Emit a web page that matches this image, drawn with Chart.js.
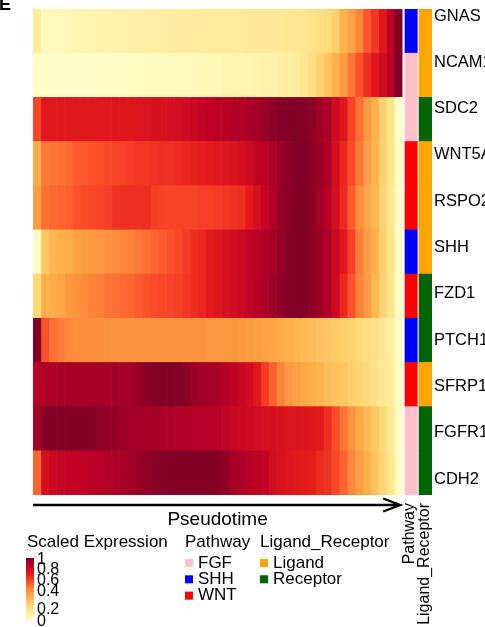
<!DOCTYPE html>
<html>
<head>
<meta charset="utf-8">
<script src="https://cdn.jsdelivr.net/npm/chart.js@4.4.0/dist/chart.umd.min.js"></script>
<style>
  html, body { margin: 0; padding: 0; background: #fff; }
</style>
</head>
<body>
<canvas id="heat" width="485" height="627"></canvas>
<script>
const genes = ["GNAS", "NCAM1", "SDC2", "WNT5A", "RSPO2", "SHH", "FZD1", "PTCH1", "SFRP1", "FGFR1", "CDH2"];
const pathway = ["SHH", "FGF", "FGF", "WNT", "WNT", "SHH", "WNT", "SHH", "WNT", "FGF", "FGF"];
const ligandReceptor = ["Ligand", "Ligand", "Receptor", "Ligand", "Ligand", "Ligand", "Receptor", "Receptor", "Ligand", "Receptor", "Receptor"];

const pathwayNames = ["FGF", "SHH", "WNT"];
const pathwayColors = ["#ffc0cb", "#0000ff", "#ff0000"];
const lrNames = ["Ligand", "Receptor"];
const lrColors = ["#ffa500", "#006400"];
const scaleTicks = ["1", "0.8", "0.6", "0.4", "0.2", "0"];

// scaled expression along pseudotime (47 bins)
const gnas  = [0.13,0.04,0.05,0.05,0.06,0.07,0.07,0.08,0.09,0.09,0.10,0.10,0.11,0.11,0.12,0.12,0.12,0.13,0.13,0.13,0.13,0.14,0.14,0.14,0.14,0.14,0.14,0.15,0.15,0.15,0.15,0.15,0.16,0.16,0.17,0.19,0.21,0.24,0.28,0.37,0.43,0.51,0.61,0.68,0.76,0.87,1.00];
const ncam1 = [0.02,0.02,0.01,0.01,0.01,0.01,0.01,0.01,0.01,0.02,0.02,0.02,0.03,0.03,0.03,0.04,0.04,0.04,0.05,0.05,0.05,0.06,0.06,0.06,0.07,0.07,0.08,0.08,0.09,0.10,0.10,0.11,0.12,0.14,0.17,0.21,0.27,0.32,0.38,0.45,0.55,0.62,0.70,0.76,0.82,0.88,1.00];
const sdc2  = [0.65,0.76,0.76,0.76,0.76,0.76,0.76,0.76,0.76,0.76,0.77,0.77,0.77,0.78,0.78,0.79,0.79,0.80,0.81,0.82,0.84,0.86,0.87,0.88,0.88,0.89,0.90,0.91,0.93,0.95,0.97,0.99,1.00,1.00,0.99,0.97,0.93,0.90,0.82,0.76,0.65,0.56,0.47,0.38,0.28,0.18,0.01];
const wnt5a = [0.40,0.54,0.55,0.56,0.57,0.60,0.61,0.62,0.63,0.64,0.65,0.66,0.67,0.68,0.68,0.69,0.70,0.70,0.71,0.72,0.73,0.74,0.75,0.76,0.77,0.78,0.80,0.83,0.86,0.88,0.91,0.94,0.97,1.00,1.00,0.97,0.94,0.90,0.80,0.72,0.63,0.54,0.45,0.37,0.28,0.18,0.03];
const rspo2 = [0.45,0.56,0.57,0.58,0.59,0.62,0.63,0.64,0.65,0.66,0.69,0.70,0.70,0.70,0.70,0.66,0.65,0.65,0.65,0.65,0.65,0.66,0.66,0.67,0.68,0.69,0.70,0.75,0.80,0.85,0.90,0.95,0.98,1.00,1.00,0.97,0.93,0.88,0.80,0.71,0.60,0.50,0.42,0.36,0.27,0.16,0.02];
const shh   = [0.02,0.30,0.36,0.38,0.40,0.43,0.45,0.46,0.47,0.48,0.50,0.51,0.52,0.54,0.56,0.58,0.60,0.62,0.64,0.67,0.70,0.72,0.75,0.77,0.79,0.81,0.83,0.86,0.88,0.90,0.93,0.96,0.99,1.00,1.00,0.97,0.94,0.90,0.83,0.76,0.66,0.53,0.45,0.38,0.28,0.18,0.02];
const fzd1  = [0.25,0.38,0.40,0.42,0.46,0.48,0.50,0.52,0.53,0.55,0.56,0.57,0.58,0.60,0.62,0.63,0.64,0.65,0.66,0.68,0.70,0.72,0.75,0.77,0.79,0.81,0.83,0.86,0.88,0.91,0.94,0.97,0.99,1.00,1.00,0.97,0.94,0.90,0.83,0.72,0.62,0.52,0.45,0.36,0.27,0.18,0.03];
const ptch1 = [1.00,0.62,0.56,0.53,0.51,0.50,0.50,0.49,0.49,0.48,0.48,0.48,0.48,0.48,0.48,0.48,0.48,0.48,0.48,0.48,0.48,0.48,0.47,0.47,0.47,0.47,0.46,0.45,0.44,0.43,0.42,0.41,0.39,0.37,0.35,0.34,0.32,0.31,0.30,0.28,0.27,0.25,0.22,0.20,0.16,0.11,0.03];
const sfrp1 = [0.88,0.91,0.91,0.92,0.92,0.92,0.92,0.92,0.92,0.92,0.93,0.93,0.93,0.96,0.98,0.99,1.00,1.00,0.99,0.98,0.94,0.93,0.93,0.92,0.89,0.87,0.84,0.81,0.76,0.67,0.59,0.52,0.47,0.44,0.41,0.39,0.37,0.34,0.32,0.31,0.28,0.26,0.24,0.20,0.17,0.13,0.03];
const fgfr1 = [0.92,1.00,1.00,1.00,1.00,1.00,1.00,0.99,0.97,0.96,0.96,0.94,0.93,0.93,0.92,0.92,0.91,0.91,0.90,0.90,0.89,0.89,0.88,0.88,0.86,0.84,0.83,0.82,0.81,0.80,0.80,0.79,0.78,0.78,0.77,0.76,0.75,0.70,0.63,0.55,0.48,0.41,0.35,0.30,0.24,0.15,0.03];
const cdh2  = [0.58,0.80,0.83,0.85,0.86,0.86,0.87,0.88,0.89,0.90,0.91,0.92,0.93,0.95,0.97,0.98,0.99,1.00,1.00,1.00,1.00,1.00,1.00,0.99,0.97,0.93,0.91,0.89,0.87,0.85,0.81,0.79,0.77,0.76,0.75,0.74,0.71,0.69,0.64,0.58,0.51,0.45,0.38,0.32,0.26,0.16,0.03];

const expression = [gnas, ncam1, sdc2, wnt5a, rspo2, shh, fzd1, ptch1, sfrp1, fgfr1, cdh2];

const palette = ["#ffffcc","#ffeda0","#fed976","#feb24c","#fd8d3c","#fc4e2a","#e31a1c","#bd0026","#800026"];
const FONT = "'Liberation Sans', Arial, sans-serif";

function hexRgb(h) {
  return [parseInt(h.slice(1,3),16), parseInt(h.slice(3,5),16), parseInt(h.slice(5,7),16)];
}
function colorFor(v) {
  v = Math.max(0, Math.min(1, v));
  const p = v * (palette.length - 1);
  const i = Math.min(Math.floor(p), palette.length - 2);
  const t = p - i;
  const a = hexRgb(palette[i]), b = hexRgb(palette[i+1]);
  const c = a.map((x, k) => Math.round(x + (b[k] - x) * t));
  return "rgb(" + c.join(",") + ")";
}

const nBins = gnas.length;
const datasets = [];
for (let j = 0; j < nBins; j++) {
  datasets.push({
    data: genes.map(() => [j, j + 1]),
    backgroundColor: expression.map(r => colorFor(r[j]))
  });
}
// annotation columns
datasets.push({
  data: genes.map(() => [47.36, 48.93]),
  backgroundColor: pathway.map(p => pathwayColors[pathwayNames.indexOf(p)])
});
datasets.push({
  data: genes.map(() => [49.15, 50.8]),
  backgroundColor: ligandReceptor.map(p => lrColors[lrNames.indexOf(p)])
});

const extras = {
  id: "extras",
  afterDraw(chart) {
    const ctx = chart.ctx;
    ctx.save();
    ctx.fillStyle = "#000";
    ctx.strokeStyle = "#000";

    // panel letter
    ctx.font = "bold 18px " + FONT;
    ctx.textBaseline = "alphabetic";
    ctx.textAlign = "left";
    ctx.fillText("E", -1, 10);

    // pseudotime arrow
    const left = chart.chartArea.left;
    const tip = chart.scales.x.getPixelForValue(47) - 2;
    ctx.lineWidth = 2.4;
    ctx.beginPath();
    ctx.moveTo(left, 505);
    ctx.lineTo(tip, 505);
    ctx.moveTo(tip - 17, 498.5);
    ctx.lineTo(tip, 505);
    ctx.lineTo(tip - 17, 511.5);
    ctx.stroke();
    ctx.font = "19px " + FONT;
    ctx.textAlign = "center";
    ctx.fillText("Pseudotime", (left + tip) / 2 + 1, 525);

    // annotation names under the columns
    ctx.font = "16px " + FONT;
    ctx.textAlign = "right";
    [["Pathway", 413.5], ["Ligand_Receptor", 428.5]].forEach(([txt, x]) => {
      ctx.save();
      ctx.translate(x, 503);
      ctx.rotate(-Math.PI / 2);
      ctx.fillText(txt, 0, 0);
      ctx.restore();
    });

    // legend titles
    ctx.textAlign = "left";
    ctx.font = "17px " + FONT;
    ctx.fillText("Scaled Expression", 27, 547);
    ctx.fillText("Pathway", 185, 547);
    ctx.fillText("Ligand_Receptor", 260, 547);

    // color bar
    const g = ctx.createLinearGradient(0, 621, 0, 558);
    palette.forEach((c, i) => g.addColorStop(i / (palette.length - 1), c));
    ctx.fillStyle = g;
    ctx.fillRect(26, 558, 8, 63);
    ctx.fillStyle = "#000";
    ctx.font = "16px " + FONT;
    ctx.textBaseline = "middle";
    const tickY = [560, 570, 581, 592, 610, 622];
    scaleTicks.forEach((t, i) => ctx.fillText(t, 37, tickY[i]));

    // discrete legends
    ctx.textBaseline = "alphabetic";
    ctx.font = "17px " + FONT;
    pathwayNames.forEach((n, i) => {
      ctx.fillStyle = pathwayColors[i];
      ctx.fillRect(185, 559 + i * 16.3, 8, 8);
      ctx.fillStyle = "#000";
      ctx.fillText(n, 198, 568 + i * 16);
    });
    lrNames.forEach((n, i) => {
      ctx.fillStyle = lrColors[i];
      ctx.fillRect(260, 559 + i * 16.3, 8, 8);
      ctx.fillStyle = "#000";
      ctx.fillText(n, 273, 568 + i * 16);
    });
    ctx.restore();
  }
};

new Chart(document.getElementById("heat"), {
  type: "bar",
  data: { labels: genes, datasets: datasets },
  plugins: [extras],
  options: {
    indexAxis: "y",
    responsive: false,
    animation: false,
    events: [],
    layout: { padding: { left: 33, top: 9, bottom: 132, right: 0 } },
    datasets: {
      bar: { grouped: false, barPercentage: 1, categoryPercentage: 1, borderWidth: 0 }
    },
    plugins: { legend: { display: false }, tooltip: { enabled: false } },
    scales: {
      x: { type: "linear", min: 0, max: 50.8, display: false },
      y: { type: "category", display: false, offset: true },
      genesAxis: {
        type: "linear",
        position: "right",
        reverse: true,
        offset: false,
        min: -0.151,
        max: 10.346,
        afterBuildTicks: s => { s.ticks = genes.map((g, i) => ({ value: i })); },
        afterFit: s => { s.width = 53; s.paddingTop = 0; s.paddingBottom = 0; },
        grid: { display: false, drawTicks: false, offset: false },
        border: { display: false },
        ticks: {
          autoSkip: false,
          padding: 2,
          color: "#000",
          font: { family: FONT, size: 16.5 },
          callback: v => genes[v]
        }
      }
    }
  }
});
</script>
</body>
</html>
